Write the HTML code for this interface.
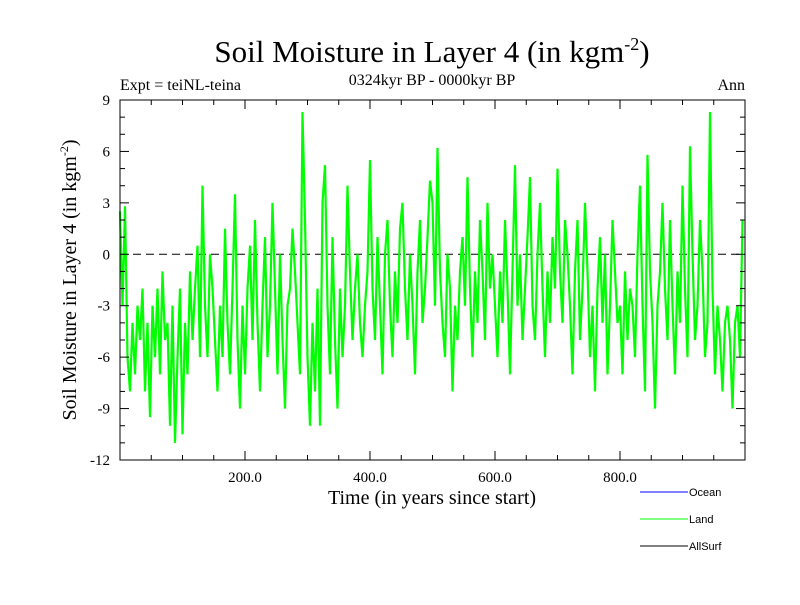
<!DOCTYPE html>
<html><head><meta charset="utf-8"><style>
body{margin:0;background:#fff}
svg text{font-family:"Liberation Serif",serif}
</style></head><body>
<svg id="c" width="800" height="600" xmlns="http://www.w3.org/2000/svg">
<text x="432" y="62" font-size="31" text-anchor="middle">Soil Moisture in Layer 4 (in kgm<tspan dy="-12" font-size="18">-2</tspan><tspan dy="12">)</tspan></text>
<text x="432" y="85" font-size="16" text-anchor="middle">0324kyr BP - 0000kyr BP</text>
<text x="120" y="90" font-size="16">Expt = teiNL-teina</text>
<text x="745" y="90" font-size="16" text-anchor="end">Ann</text>
<text x="432" y="504" font-size="20" text-anchor="middle">Time (in years since start)</text>
<text transform="translate(76,280) rotate(-90)" font-size="20" text-anchor="middle">Soil Moisture in Layer 4 (in kgm<tspan dy="-8" font-size="12">-2</tspan><tspan dy="8">)</tspan></text>
<g id="plot"></g>
<g font-size="11">
<line x1="640" y1="492" x2="688" y2="492" stroke="#0000ff"/>
<text x="689" y="496" style="font-family:'Liberation Sans',sans-serif">Ocean</text>
<line x1="640" y1="519" x2="688" y2="519" stroke="#00ff00"/>
<text x="689" y="523" style="font-family:'Liberation Sans',sans-serif">Land</text>
<line x1="640" y1="546" x2="688" y2="546" stroke="#000"/>
<text x="689" y="550" style="font-family:'Liberation Sans',sans-serif">AllSurf</text>
</g>
</svg>
<script>
const landValues=[2.5,-3,2.8,-6,-8,-4,-7,-3,-5,-2,-8,-4,-9.5,-3,-6,-2,-7,-1,-5,-4,-10,-3,-11,-6,-2,
-10.5,-4,-7,-1,-5,-2,0.5,-6,4,-3,-6,0,-2,-5,-8,-3,-6,1.5,-4,-7,-2,3.5,-5,-9,-3,
-7,-2,0.5,-5,2,-4,-8,-3,1,-6,-3,3,-2,-7,0,-5,-9,-3,-2,1.5,-1,-4,-7,8.3,2,
-6,-10,-4,-8,-2,-10,3,5.2,-3,-7,1,-5,-9,-2,-6,-3,4,-1,-5,-2,0,-4,-6,-3,-1,
5.5,-2,-5,1,-3,-7,0,2,-3,-6,-1,-4,1.5,3,-2,-5,0,-3,-7,-1,2,-4,-2,1,4.3,
3,-3,6.2,-1,-4,-6,0,-2,-8,-3,-5,-1,1,-3,4.5,-2,-6,-1,-4,2,-1,-5,3,-2,0,
-3,-6,-1,-4,2,-2,-7,-1,5.2,-3,0,-5,-2,1,4.5,-3,-5,0,3,-2,-6,-1,-4,1,-2,
5,-1,-4,2,0,-3,-7,-1,2,-5,-2,3,-1,-6,-3,-8,-2,1,-4,0,-7,-3,2,-1,-4,
-3,-7,-1,-5,-2,-3,-6,0,4,-3,-8,5.8,-1,-4,-9,-3,-1,3,-2,-5,2,-3,-7,-1,-4,
4,-2,-6,6.3,0,-5,-3,2,-1,-6,-4,8.3,-2,-7,-3,-5,-8,-4,-3,-5,-9,-4,-3,-6,2];
const yearStep=4;
const yTicks=[9,6,3,0,-3,-6,-9,-12];
const xTicks=[200,400,600,800];
const xTickLabels=["200.0","400.0","600.0","800.0"];
const X0=120,X1=745,Y0=100,Y1=460,XMAX=1000,YMIN=-12,YMAX=9;
const sx=v=>X0+(v/XMAX)*(X1-X0);
const sy=v=>Y0+(YMAX-v)/(YMAX-YMIN)*(Y1-Y0);
const NS="http://www.w3.org/2000/svg";
const g=document.getElementById('plot');
function mk(t,a){const e=document.createElementNS(NS,t);for(const k in a)e.setAttribute(k,a[k]);g.appendChild(e);return e;}
const zl=mk('line',{x1:X0,x2:X1,y1:sy(0),y2:sy(0),stroke:'#000','stroke-dasharray':'8,5','stroke-width':1});


const pts=landValues.map((v,i)=>sx(i*yearStep).toFixed(1)+','+sy(v).toFixed(1)).join(' ');
const pl=mk('polyline',{points:pts,fill:'none',stroke:'#00ff00','stroke-width':2.2});


for(let v=YMIN;v<=YMAX;v++){const L=(v%3===0)?9:5;
mk('line',{x1:X0,x2:X0+L,y1:sy(v),y2:sy(v),stroke:'#000'});
mk('line',{x1:X1-L,x2:X1,y1:sy(v),y2:sy(v),stroke:'#000'});}
yTicks.forEach(v=>{const t=mk('text',{x:X0-10,y:sy(v)+5,'font-size':15,'text-anchor':'end'});t.textContent=v;

});
for(let v=0;v<=XMAX;v+=50){const L=(v%200===0)?9:5;
mk('line',{x1:sx(v),x2:sx(v),y1:Y1,y2:Y1-L,stroke:'#000'});
mk('line',{x1:sx(v),x2:sx(v),y1:Y0,y2:Y0+L,stroke:'#000'});}
xTicks.forEach((v,i)=>{const t=mk('text',{x:sx(v),y:Y1+22,'font-size':15,'text-anchor':'middle'});t.textContent=xTickLabels[i];

});
const fr=mk('rect',{x:X0,y:Y0,width:X1-X0,height:Y1-Y0,fill:'none',stroke:'#000'});


</script>
</body></html>
